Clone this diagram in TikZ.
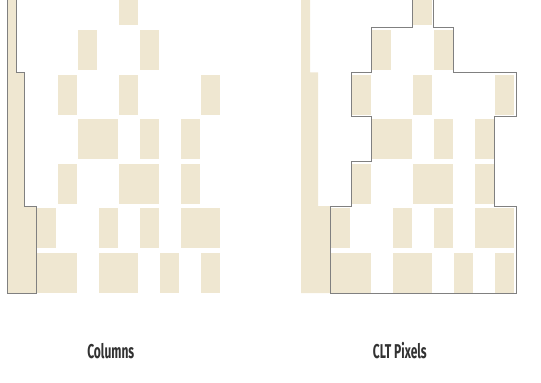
\documentclass[tikz,border=0pt]{standalone}
\usepackage{fontspec}
\newfontfamily\labelfont{Fira Sans}[FakeStretch=0.6]
\usepackage{tikz}
\definecolor{pixelbeige}{RGB}{239,231,209}
\definecolor{randgrau}{RGB}{128,128,128}
\definecolor{textgrau}{RGB}{50,50,50}

\begin{document}
\begin{tikzpicture}[x=20.5pt, y=44.6pt,
			pixel/.style={fill=pixelbeige, draw=none},   %Pixelkaestchen
			rand/.style={draw=randgrau, line width=0.8pt, line join=miter},
			beschriftung/.style={font=\labelfont\bfseries\fontsize{20}{22}\selectfont, text=textgrau}]
			%Bildbereich
			\useasboundingbox (-1.805,-1.996) rectangle (24.585,6.57);
			\clip (-1.805,-1.996) rectangle (24.585,6.57);
			% beide Bilder: Randstreifen und Pixel
			\foreach \dx in {0,294} {
				\begin{scope}[xshift=\dx pt]
					\fill[pixel] (-1.46,6.6) -- (-1.02,6.6) -- (-1.02,4.95) -- (-0.63,4.95) -- (-0.63,1.95) -- (-0.025,1.95) -- (-0.025,0) -- (-1.46,0) -- cycle;
					\foreach \c/\r/\w in {0/0/2, 3/0/2, 6/0/1, 8/0/1,
						0/1/1, 3/1/1, 5/1/1, 7/1/2,
						1/2/1, 4/2/2, 7/2/1,
						2/3/2, 5/3/1, 7/3/1,
						1/4/1, 4/4/1, 8/4/1,
						2/5/1, 5/5/1,
						4/6/1}
						\fill[pixel] (\c,\r) rectangle (\c+\w-0.05,\r+0.897);
				\end{scope}
			}
			% Rand der Spalten (links)
			\draw[rand] (-1.46,6.6) -- (-1.46,0) -- (-0.025,0) -- (-0.025,1.95) -- (-0.63,1.95) -- (-0.63,4.95) -- (-1.02,4.95) -- (-1.02,6.6);
			% Rand der CLT-Pixel (rechts)
			\begin{scope}[xshift=294pt]
				\draw[rand] (3.975,6.6) -- (3.975,5.95) -- (1.975,5.95) -- (1.975,4.95) -- (0.975,4.95) -- (0.975,3.95) -- (1.975,3.95) -- (1.975,2.95) -- (0.975,2.95) -- (0.975,1.95) -- (-0.025,1.95) -- (-0.025,0) -- (9.03,0) -- (9.03,1.95) -- (7.975,1.95) -- (7.975,3.95) -- (9.03,3.95) -- (9.03,4.95) -- (5.975,4.95) -- (5.975,5.95) -- (4.975,5.95) -- (4.975,6.6);
			\end{scope}
			%Beschriftung
			\node[beschriftung] (spalten) at (3.6,-1.3) {Columns};
			\node[beschriftung] (cltpixel) at (17.7,-1.3) {CLT Pixels};
		\end{tikzpicture}
\end{document}
